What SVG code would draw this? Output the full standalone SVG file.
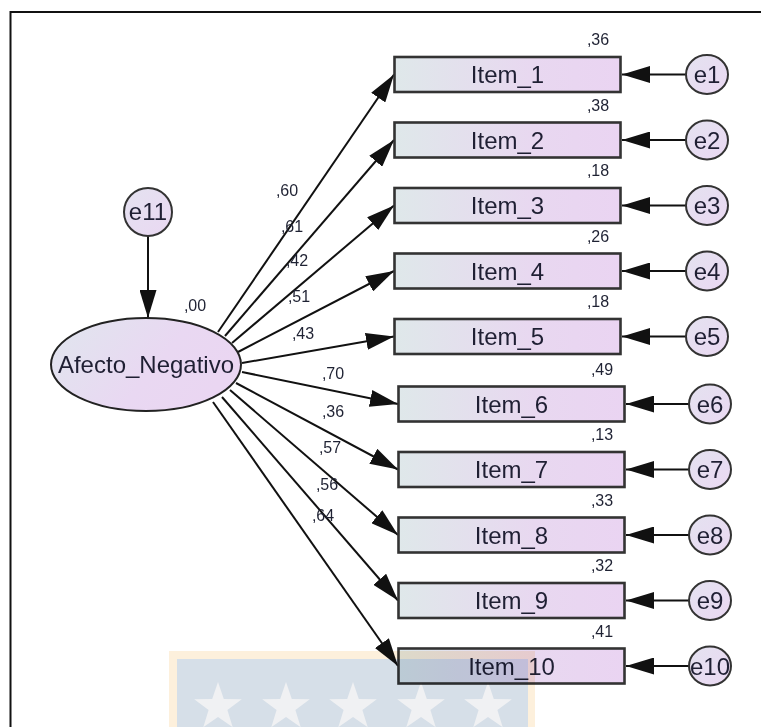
<svg xmlns="http://www.w3.org/2000/svg" width="761" height="727" viewBox="0 0 761 727">
  <style>
    .box { stroke: #333; stroke-width: 2.6; fill: url(#boxFill); }
    .err { stroke: #333; stroke-width: 2; fill: url(#errFill); }
    .lat { stroke: #222; stroke-width: 2; fill: url(#latFill); }
    .lbl { font-family: "Liberation Sans", Arial, sans-serif; font-size: 24px; fill: #1f1f33; text-anchor: middle; }
    .num { font-family: "Liberation Sans", Arial, sans-serif; font-size: 16px; fill: #1f2233; text-anchor: middle; }
    .path { stroke: #111; stroke-width: 2; fill: none; marker-end: url(#head); }
    .frame { stroke: #111; stroke-width: 2; fill: none; }
  </style>
  <defs>
    <linearGradient id="boxFill" x1="0" y1="0" x2="1" y2="0">
      <stop offset="0" stop-color="#dfe8ea"/>
      <stop offset="0.6" stop-color="#e8d8f0"/>
      <stop offset="1" stop-color="#ead4f2"/>
    </linearGradient>
    <linearGradient id="latFill" x1="0" y1="0" x2="1" y2="0.4">
      <stop offset="0" stop-color="#e0e6ee"/>
      <stop offset="0.65" stop-color="#e9d8f2"/>
      <stop offset="1" stop-color="#ead6f2"/>
    </linearGradient>
    <linearGradient id="errFill" x1="0" y1="0" x2="1" y2="1">
      <stop offset="0" stop-color="#e4e2f0"/>
      <stop offset="1" stop-color="#ead8f2"/>
    </linearGradient>
    <marker id="head" markerUnits="userSpaceOnUse" markerWidth="28" markerHeight="17" viewBox="0 0 28 17" refX="28" refY="8.5" orient="auto">
      <path d="M0,0 L28,8.5 L0,17 z" fill="#111"/>
    </marker>
    <path id="star" d="M0,-25 L5.8,-8 L23.8,-7.7 L9.4,3.1 L14.7,20.2 L0,9.9 L-14.7,20.2 L-9.4,3.1 L-23.8,-7.7 L-5.8,-8 z"/>
  </defs>

  <rect width="761" height="727" fill="#fff"/>
  <path class="frame" d="M10.5,727 V12 H761"/>

  <!-- connectors -->
  <g id="connectors">
    <line class="path" x1="148" y1="236" x2="148" y2="318"/>
    <line class="path" x1="218" y1="332" x2="394" y2="74.5"/>
    <line class="path" x1="225" y1="336" x2="394" y2="140"/>
    <line class="path" x1="232" y1="343" x2="394" y2="205.5"/>
    <line class="path" x1="238" y1="352" x2="394" y2="271"/>
    <line class="path" x1="242" y1="363" x2="394" y2="336.5"/>
    <line class="path" x1="242" y1="372" x2="398" y2="404"/>
    <line class="path" x1="236" y1="383" x2="398" y2="469.5"/>
    <line class="path" x1="230" y1="390" x2="398" y2="535"/>
    <line class="path" x1="222" y1="397" x2="398" y2="600.5"/>
    <line class="path" x1="213" y1="402" x2="398" y2="666"/>
    <line class="path" x1="686" y1="74.5" x2="622" y2="74.5"/>
    <line class="path" x1="686" y1="140" x2="622" y2="140"/>
    <line class="path" x1="686" y1="205.5" x2="622" y2="205.5"/>
    <line class="path" x1="686" y1="271" x2="622" y2="271"/>
    <line class="path" x1="686" y1="336.5" x2="622" y2="336.5"/>
    <line class="path" x1="689" y1="404" x2="626" y2="404"/>
    <line class="path" x1="689" y1="469.5" x2="626" y2="469.5"/>
    <line class="path" x1="689" y1="535" x2="626" y2="535"/>
    <line class="path" x1="689" y1="600.5" x2="626" y2="600.5"/>
    <line class="path" x1="689" y1="666" x2="626" y2="666"/>
  </g>

  <!-- path coefficients -->
  <g id="loadings">
    <text class="num" x="287" y="196">,60</text>
    <text class="num" x="292" y="232">,61</text>
    <text class="num" x="297" y="266">,42</text>
    <text class="num" x="299" y="302">,51</text>
    <text class="num" x="303" y="339">,43</text>
    <text class="num" x="333" y="379">,70</text>
    <text class="num" x="333" y="417">,36</text>
    <text class="num" x="330" y="453">,57</text>
    <text class="num" x="327" y="490">,56</text>
    <text class="num" x="323" y="521">,64</text>
  </g>

  <!-- latent factor -->
  <g id="e11">
    <circle class="err" cx="148" cy="212" r="24"/>
    <text class="lbl" x="148" y="220">e11</text>
  </g>
  <g id="Afecto_Negativo">
    <ellipse class="lat" cx="146" cy="364.5" rx="95" ry="46.5"/>
    <text class="lbl" x="146" y="373">Afecto_Negativo</text>
    <text class="num" x="195" y="311">,00</text>
  </g>

  <!-- observed items -->
  <g id="Item_1"><rect class="box" x="394.5" y="57" width="226" height="35"/><text class="lbl" x="507.5" y="83">Item_1</text><text class="num" x="598" y="45">,36</text></g>
  <g id="Item_2"><rect class="box" x="394.5" y="122.5" width="226" height="35"/><text class="lbl" x="507.5" y="148.5">Item_2</text><text class="num" x="598" y="110.5">,38</text></g>
  <g id="Item_3"><rect class="box" x="394.5" y="188" width="226" height="35"/><text class="lbl" x="507.5" y="214">Item_3</text><text class="num" x="598" y="176">,18</text></g>
  <g id="Item_4"><rect class="box" x="394.5" y="253.5" width="226" height="35"/><text class="lbl" x="507.5" y="279.5">Item_4</text><text class="num" x="598" y="241.5">,26</text></g>
  <g id="Item_5"><rect class="box" x="394.5" y="319" width="226" height="35"/><text class="lbl" x="507.5" y="345">Item_5</text><text class="num" x="598" y="307">,18</text></g>
  <g id="Item_6"><rect class="box" x="398.5" y="386.5" width="226" height="35"/><text class="lbl" x="511.5" y="412.5">Item_6</text><text class="num" x="602" y="374.5">,49</text></g>
  <g id="Item_7"><rect class="box" x="398.5" y="452" width="226" height="35"/><text class="lbl" x="511.5" y="478">Item_7</text><text class="num" x="602" y="440">,13</text></g>
  <g id="Item_8"><rect class="box" x="398.5" y="517.5" width="226" height="35"/><text class="lbl" x="511.5" y="543.5">Item_8</text><text class="num" x="602" y="505.5">,33</text></g>
  <g id="Item_9"><rect class="box" x="398.5" y="583" width="226" height="35"/><text class="lbl" x="511.5" y="609">Item_9</text><text class="num" x="602" y="571">,32</text></g>
  <g id="Item_10"><rect class="box" x="398.5" y="648.5" width="226" height="35"/><text class="lbl" x="511.5" y="674.5">Item_10</text><text class="num" x="602" y="636.5">,41</text></g>

  <!-- error terms -->
  <g id="e1"><ellipse class="err" cx="707" cy="74.5" rx="21" ry="19.5"/><text class="lbl" x="707" y="83">e1</text></g>
  <g id="e2"><ellipse class="err" cx="707" cy="140" rx="21" ry="19.5"/><text class="lbl" x="707" y="148.5">e2</text></g>
  <g id="e3"><ellipse class="err" cx="707" cy="205.5" rx="21" ry="19.5"/><text class="lbl" x="707" y="214">e3</text></g>
  <g id="e4"><ellipse class="err" cx="707" cy="271" rx="21" ry="19.5"/><text class="lbl" x="707" y="279.5">e4</text></g>
  <g id="e5"><ellipse class="err" cx="707" cy="336.5" rx="21" ry="19.5"/><text class="lbl" x="707" y="345">e5</text></g>
  <g id="e6"><ellipse class="err" cx="710" cy="404" rx="21" ry="19.5"/><text class="lbl" x="710" y="412.5">e6</text></g>
  <g id="e7"><ellipse class="err" cx="710" cy="469.5" rx="21" ry="19.5"/><text class="lbl" x="710" y="478">e7</text></g>
  <g id="e8"><ellipse class="err" cx="710" cy="535" rx="21" ry="19.5"/><text class="lbl" x="710" y="543.5">e8</text></g>
  <g id="e9"><ellipse class="err" cx="710" cy="600.5" rx="21" ry="19.5"/><text class="lbl" x="710" y="609">e9</text></g>
  <g id="e10"><ellipse class="err" cx="710" cy="666" rx="21" ry="19.5"/><text class="lbl" x="710" y="674.5">e10</text></g>

  <!-- translucent starred band at the bottom -->
  <g style="mix-blend-mode: multiply">
    <rect x="169" y="651" width="366" height="76" fill="#fdf0dc"/>
    <rect x="177" y="659" width="351" height="68" fill="#d6dfe8"/>
    <g fill="#f0f1f3">
      <use href="#star" x="218" y="707"/>
      <use href="#star" x="286" y="707"/>
      <use href="#star" x="353" y="707"/>
      <use href="#star" x="421" y="707"/>
      <use href="#star" x="488" y="707"/>
    </g>
  </g>
</svg>
